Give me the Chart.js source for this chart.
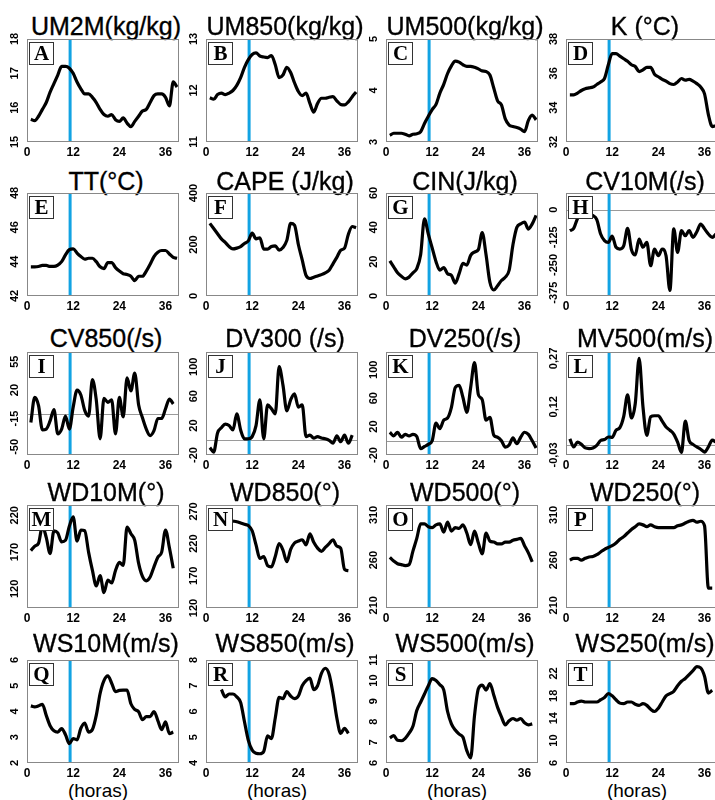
<!DOCTYPE html>
<html>
<head>
<meta charset="utf-8">
<script src="https://cdn.jsdelivr.net/npm/chart.js@4.4.1/dist/chart.umd.min.js"></script>
<style>
  html, body { margin: 0; padding: 0; background: #fff; overflow: hidden; }
  #pagina { position: relative; width: 715px; height: 800px; overflow: hidden; }
  #pagina canvas { position: absolute; }
  .titulo { position: absolute; width: 220px; text-align: center; font: 25px Arial, "Liberation Sans", sans-serif; line-height: 25px; color: #000; white-space: nowrap; -webkit-text-stroke: 0.35px #000; }
  .horas { position: absolute; width: 120px; text-align: center; font: 19px Arial, "Liberation Sans", sans-serif; line-height: 19px; color: #000; }
</style>
</head>
<body>
<div id="pagina"></div>
<script>
// ===================== DADOS =====================

const horas = [1, 2, 3, 4, 5, 6, 7, 8, 9, 10, 11, 12, 13, 14, 15, 16, 17, 18, 19, 20,
  21, 22, 23, 24, 25, 26, 27, 28, 29, 30, 31, 32, 33, 34, 35, 36, 37, 38, 39];
const xTicks = [0, 12, 24, 36];
const marcaHora = 11.2; // linha azul

const um2m = [15.66, 15.62, 15.75, 15.95, 16.15, 16.45, 16.7, 16.95, 17.2, 17.2, 17.15, 17.0, 16.75, 16.55, 16.4, 16.4, 16.3, 16.15, 15.95, 15.8,
  15.75, 15.8, 15.65, 15.6, 15.7, 15.55, 15.45, 15.6, 15.75, 15.9, 15.95, 16.15, 16.35, 16.4, 16.4, 16.3, 16.05, 16.75, 16.6];
const um850 = [11.86, 11.83, 11.92, 11.95, 11.92, 11.95, 12.0, 12.1, 12.25, 12.45, 12.6, 12.7, 12.73, 12.67, 12.65, 12.64, 12.68, 12.5, 12.25, 12.3,
  12.45, 12.35, 12.15, 11.98, 11.9, 11.95, 11.75, 11.58, 11.75, 11.85, 11.85, 11.87, 11.88, 11.8, 11.73, 11.72, 11.78, 11.88, 11.97];
const um500 = [3.13, 3.17, 3.17, 3.17, 3.15, 3.12, 3.15, 3.16, 3.2, 3.36, 3.5, 3.63, 3.73, 3.95, 4.12, 4.33, 4.48, 4.57, 4.55, 4.5,
  4.47, 4.47, 4.45, 4.42, 4.38, 4.37, 4.3, 4.05, 3.8, 3.72, 3.45, 3.33, 3.3, 3.28, 3.25, 3.2, 3.42, 3.52, 3.43];
const kIndex = [34.75, 34.75, 34.85, 35.0, 35.1, 35.15, 35.2, 35.35, 35.5, 35.7, 36.5, 37.15, 37.15, 37.0, 36.85, 36.7, 36.5, 36.4, 36.1, 36.2,
  36.35, 36.35, 35.95, 35.8, 35.65, 35.55, 35.4, 35.35, 35.5, 35.7, 35.6, 35.65, 35.55, 35.4, 35.2, 34.8, 33.6, 32.9, 32.95];
const tt = [43.7, 43.7, 43.72, 43.78, 43.78, 43.72, 43.72, 43.8, 44.0, 44.4, 44.7, 44.75, 44.5, 44.3, 44.15, 44.2, 44.2, 44.0, 43.7, 43.6,
  43.95, 43.95, 43.65, 43.45, 43.3, 43.25, 43.15, 42.9, 43.15, 43.15, 43.45, 43.85, 44.3, 44.55, 44.65, 44.65, 44.45, 44.25, 44.2];
const cape = [282, 262, 242, 222, 208, 192, 183, 186, 192, 204, 214, 244, 222, 226, 182, 182, 192, 195, 178, 188,
  216, 282, 275, 200, 140, 80, 68, 73, 78, 83, 90, 100, 125, 150, 178, 186, 240, 270, 265];
const cin = [20.5, 17, 13.5, 11.5, 10, 11, 13.5, 16, 24, 45, 36, 28, 20, 15, 16.5, 13, 12, 7.5, 13, 19,
  18, 23.7, 25.6, 27, 37, 24, 8, 3.5, 6, 9, 11, 15, 30, 40, 42, 43, 39, 42, 47];
const cv10m = [-95, -85, -40, -20, -15, -20, -27, -45, -110, -140, -148, -120, -170, -178, -163, -85, -180, -205, -133, -170,
  -148, -253, -178, -208, -178, -208, -365, -87, -193, -95, -118, -95, -125, -100, -65, -87, -110, -125, -110];
const cv850 = [-20, 11, 1, -29, -28, -18, -4, -34, -28, -12, -28, -1, 20, 14, -5, -12, 33, 8, -40, 10,
  5, 8, -34, 11, -13, 35, 19, 41, 2, -14, -28, -36, -30, -15, -15, -3, 9, 3, null];
const dv300 = [-10, -16, 10, 17, 22, 20, 14, 36, 14, 2, 2, 5, 20, 55, 2, 48, 43, 36, 100, 75,
  40, 55, 63, 45, 48, 5, 7, 3, 5, 3, 2, 0, -4, 6, -2, 7, -4, 7, null];
const dv250 = [12, 7, 12, 5, 9, 7, 9, 6, -11, -8, -5, 0, 25, 17, 29, 32, 47, 75, 78, 61,
  40, 75, 110, 65, 58, 29, 33, 8, 5, 0, -9, -6, 4, -4, 5, 12, 9, 0, -10];
const mv500 = [0.02, -0.005, 0.01, 0.003, -0.008, -0.01, -0.008, 0.0, 0.015, 0.018, 0.026, 0.025, 0.047, 0.055, 0.09, 0.157, 0.085, 0.13, 0.27, 0.12,
  0.031, 0.089, 0.092, 0.092, 0.075, 0.057, 0.047, 0.035, 0.01, -0.022, 0.075, 0.015, 0.003, -0.005, -0.012, -0.021, -0.005, 0.016, 0.01];
const wd10m = [172, 178, 182, 205, 190, 168, 199, 196, 184, 186, 205, 218, 185, 200, 199, 170, 145, 124, 138, 115,
  132, 128, 145, 156, 152, 204, 195, 186, 155, 137, 131, 136, 150, 163, 170, 200, 176, 148, null];
const wd850 = [null, null, null, null, null, null, 255, 254, 252, 250, 248, 240, 218, 197, 200, 186, 184, 200, 220, 210,
  192, 211, 221, 224, 226, 218, 235, 222, 213, 208, 214, 220, 226, 216, 213, 180, 178, null, null];
const wd500 = [263, 259, 256, 255, 254, 255, 270, 284, 300, 300, 297, 296, 299, 300, 291, 302, 292, 296, 295, 299,
  290, 277, 292, 279, 267, 290, 281, 280, 278, 278, 280, 280, 282, 283, 284, 276, 268, 258, null];
const wd250 = [260, 262, 262, 260, 262, 263.5, 264, 266, 269, 272, 274, 276, 279, 283, 286, 290, 294, 297, 300, 299,
  297, 299, 297, 296, 296, 296, 296, 296, 298, 299, 301, 303, 304, 302, 303, 298, 229, 229, null];
const ws10m = [4.22, 4.18, 4.22, 4.28, 3.85, 3.45, 3.25, 3.2, 3.34, 3.1, 2.75, 2.95, 2.9, 3.35, 3.55, 3.2, 3.3, 3.85, 4.7, 5.2,
  5.38, 5.1, 4.77, 4.82, 4.83, 4.83, 4.3, 4.08, 3.99, 3.68, 3.8, 3.8, 4.0, 3.65, 3.3, 3.6, 3.14, 3.2, null];
const ws850 = [null, null, null, 6.85, 6.57, 6.68, 6.68, 6.57, 6.35, 5.6, 4.88, 4.5, 4.38, 4.36, 4.45, 5.05, 4.95, 5.75, 6.55, 6.5,
  6.77, 6.6, 6.5, 6.6, 7.0, 7.2, 7.3, 6.85, 7.0, 7.48, 7.68, 7.45, 6.7, 5.75, 5.15, 5.35, 5.15, null, null];
const ws500 = [7.22, 7.33, 7.1, 7.08, 7.2, 7.45, 7.78, 8.55, 8.95, 9.35, 9.75, 10.1, 10.0, 9.8, 9.55, 8.5, 7.9, 7.6, 7.4, 7.25,
  6.6, 6.25, 8.3, 9.6, 9.78, 9.54, 9.86, 9.3, 8.7, 8.24, 7.85, 8.05, 8.16, 8.08, 8.16, 7.95, 7.85, 7.9, null];
const ws250 = [16.6, 16.6, 16.9, 17.05, 16.9, 16.9, 16.9, 16.9, 17.3, 17.7, 18.4, 18.0, 17.3, 16.7, 16.6, 16.9, 16.9, 16.5, 16.3, 16.6,
  16.3, 15.6, 15.2, 15.8, 16.9, 18.0, 18.4, 18.8, 19.8, 20.6, 21.1, 21.8, 22.5, 23.2, 23.0, 21.5, 18.5, 19.0, null];

// rótulos do eixo y
const yUm2m = [15, 16, 17, 18];
const yUm850 = [11, 12, 13];
const yUm500 = [3, 4, 5];
const yK = [32, 34, 36, 38];
const yTT = [42, 44, 46, 48];
const yCape = [0, 200, 400];
const yCin = [0, 20, 40, 60];
const yCv10m = [-375, -250, -125, 0];
const yCv850 = [-50, -15, 20, 55];
const yDv300 = [-20, 20, 60, 100];
const yDv250 = [-20, 20, 60, 100];
const yMv500 = [-0.03, 0.12, 0.27];
const yWd10m = [120, 170, 220];
const yWd850 = [120, 170, 220, 270];
const yWd500 = [210, 260, 310];
const yWd250 = [210, 260, 310];
const yWs10m = [2, 3, 4, 5, 6];
const yWs850 = [4, 5, 6, 7, 8];
const yWs500 = [6, 7, 8, 9, 10, 11];
const yWs250 = [6, 10, 14, 18, 22];

const virgula = v => String(v).replace('.', ',');

const paineis = [
  { letra: 'A', titulo: 'UM2M(kg/kg)', dados: um2m, min: 15, max: 18, ticks: yUm2m, ref: null },
  { letra: 'B', titulo: 'UM850(kg/kg)', dados: um850, min: 11, max: 13, ticks: yUm850, ref: null },
  { letra: 'C', titulo: 'UM500(kg/kg)', dados: um500, min: 3, max: 5, ticks: yUm500, ref: null },
  { letra: 'D', titulo: 'K (°C)', dados: kIndex, min: 32, max: 38, ticks: yK, ref: null },
  { letra: 'E', titulo: 'TT(°C)', dados: tt, min: 42, max: 48, ticks: yTT, ref: null },
  { letra: 'F', titulo: 'CAPE (J/kg)', dados: cape, min: 0, max: 400, ticks: yCape, ref: null },
  { letra: 'G', titulo: 'CIN(J/kg)', dados: cin, min: 0, max: 60, ticks: yCin, ref: null },
  { letra: 'H', titulo: 'CV10M(/s)', dados: cv10m, min: -390, max: 75, ticks: yCv10m, ref: 0 },
  { letra: 'I', titulo: 'CV850(/s)', dados: cv850, min: -60, max: 67, ticks: yCv850, ref: -9 },
  { letra: 'J', titulo: 'DV300 (/s)', dados: dv300, min: -20, max: 120, ticks: yDv300, ref: 0 },
  { letra: 'K', titulo: 'DV250(/s)', dados: dv250, min: -20, max: 125, ticks: yDv250, ref: 0 },
  { letra: 'L', titulo: 'MV500(m/s)', dados: mv500, min: -0.03, max: 0.29, ticks: yMv500, ref: 0, fmt: virgula },
  { letra: 'M', titulo: 'WD10M(°)', dados: wd10m, min: 94, max: 234, ticks: yWd10m, ref: null },
  { letra: 'N', titulo: 'WD850(°)', dados: wd850, min: 120, max: 280, ticks: yWd850, ref: null },
  { letra: 'O', titulo: 'WD500(°)', dados: wd500, min: 207, max: 321, ticks: yWd500, ref: null },
  { letra: 'P', titulo: 'WD250(°)', dados: wd250, min: 207, max: 321, ticks: yWd250, ref: null },
  { letra: 'Q', titulo: 'WS10M(m/s)', dados: ws10m, min: 2, max: 6, ticks: yWs10m, ref: null },
  { letra: 'R', titulo: 'WS850(m/s)', dados: ws850, min: 4, max: 8, ticks: yWs850, ref: null },
  { letra: 'S', titulo: 'WS500(m/s)', dados: ws500, min: 6, max: 11, ticks: yWs500, ref: null },
  { letra: 'T', titulo: 'WS250(m/s)', dados: ws250, min: 6, max: 24.4, ticks: yWs250, ref: null },
];

// ===================== LAYOUT =====================

const colLeft = [27, 206, 386, 566];
const rowTop = [39, 193, 352, 505, 660];
const tituloTop = [14, 169, 326, 480, 631];
const plotW = 152, plotH = 103;
const eixoW = 26, eixoH = 24, padT = 12, padR = 4;

const FONTE = 'Arial, "Liberation Sans", sans-serif';
const pagina = document.getElementById('pagina');

function criarPlugin(p) {
  return {
    id: 'painel' + p.letra,
    beforeDatasetsDraw(chart) {
      const { ctx, chartArea: a, scales } = chart;
      ctx.save();
      if (p.ref !== null) {
        const yr = Math.round(scales.y.getPixelForValue(p.ref)) + 0.5;
        ctx.strokeStyle = '#9a9a9a';
        ctx.lineWidth = 1;
        ctx.beginPath();
        ctx.moveTo(a.left, yr);
        ctx.lineTo(a.right, yr);
        ctx.stroke();
      }
      const bx = scales.x.getPixelForValue(marcaHora);
      ctx.strokeStyle = '#12a3e3';
      ctx.lineWidth = 3;
      ctx.beginPath();
      ctx.moveTo(bx, a.top);
      ctx.lineTo(bx, a.bottom);
      ctx.stroke();
      ctx.restore();
    },
    afterDraw(chart) {
      const { ctx, chartArea: a, scales } = chart;
      ctx.save();
      // moldura
      ctx.strokeStyle = '#888';
      ctx.lineWidth = 1;
      ctx.strokeRect(a.left + 0.5, a.top + 0.5, a.right - a.left - 1, a.bottom - a.top - 1);
      // caixa da letra
      const bw = 25, bh = 23, bl = a.left + 2, bt = a.top + 3;
      ctx.fillStyle = '#fff';
      ctx.fillRect(bl, bt, bw, bh);
      ctx.strokeStyle = '#333';
      ctx.strokeRect(bl + 0.5, bt + 0.5, bw - 1, bh - 1);
      ctx.fillStyle = '#000';
      ctx.font = 'bold 21px "Liberation Serif", "Times New Roman", serif';
      ctx.textAlign = 'center';
      ctx.textBaseline = 'middle';
      ctx.fillText(p.letra, bl + bw / 2, bt + bh / 2 + 1);
      // rótulos do eixo y (verticais)
      ctx.font = 'bold 11px ' + FONTE;
      p.ticks.forEach(v => {
        const yy = scales.y.getPixelForValue(v);
        ctx.save();
        ctx.translate(a.left - 12, yy);
        ctx.rotate(-Math.PI / 2);
        ctx.fillText(p.fmt ? p.fmt(v) : String(v), 0, 0);
        ctx.restore();
      });
      ctx.restore();
    }
  };
}

paineis.forEach((p, i) => {
  const col = i % 4, row = Math.floor(i / 4);
  const left = colLeft[col], top = rowTop[row];

  const t = document.createElement('div');
  t.className = 'titulo';
  t.textContent = p.titulo;
  t.style.left = (left + plotW / 2 - 110 + 3) + 'px';
  t.style.top = tituloTop[row] + 'px';
  pagina.appendChild(t);

  if (row === 4) {
    const h = document.createElement('div');
    h.className = 'horas';
    h.textContent = '(horas)';
    h.style.left = (left + plotW / 2 - 60 - 5) + 'px';
    h.style.top = '781px';
    pagina.appendChild(h);
  }

  const cv = document.createElement('canvas');
  const w = eixoW + plotW + padR, hgt = padT + plotH + eixoH;
  cv.width = w; cv.height = hgt;
  cv.style.width = w + 'px'; cv.style.height = hgt + 'px';
  cv.style.left = (left - eixoW) + 'px';
  cv.style.top = (top - padT) + 'px';
  pagina.appendChild(cv);

  new Chart(cv, {
    type: 'line',
    data: {
      datasets: [{
        data: horas.map((hr, k) => ({ x: hr, y: p.dados[k] })),
        borderColor: '#000',
        borderWidth: 3.2,
        pointRadius: 0,
        fill: false,
        cubicInterpolationMode: 'monotone',
        spanGaps: false,
      }],
    },
    options: {
      responsive: false,
      animation: false,
      devicePixelRatio: 1,
      layout: { padding: { top: padT, right: padR, left: 0, bottom: 0 } },
      plugins: { legend: { display: false }, tooltip: { enabled: false } },
      scales: {
        x: {
          type: 'linear', min: 0, max: 39.5,
          grid: { display: false, drawTicks: false },
          border: { display: false },
          ticks: { color: '#000', padding: 3, autoSkip: false, maxRotation: 0, font: { family: FONTE, size: 12, weight: 'bold' } },
          afterBuildTicks: s => { s.ticks = xTicks.map(v => ({ value: v })); },
          afterFit: s => { s.height = eixoH; },
        },
        y: {
          type: 'linear', min: p.min, max: p.max,
          grid: { display: false, drawTicks: false },
          border: { display: false },
          ticks: { display: false },
          afterBuildTicks: s => { s.ticks = p.ticks.map(v => ({ value: v })); },
          afterFit: s => { s.width = eixoW; },
        },
      },
    },
    plugins: [criarPlugin(p)],
  });
});
</script>
</body>
</html>
